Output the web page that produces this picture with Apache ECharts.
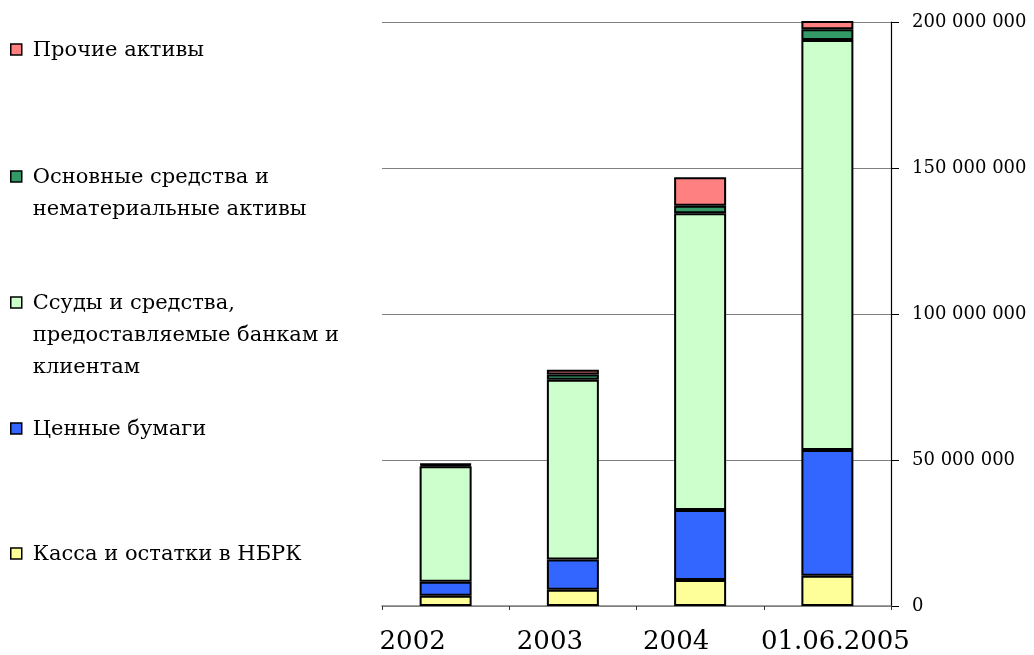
<!DOCTYPE html>
<html>
<head>
<meta charset="utf-8">
<script src="https://cdn.jsdelivr.net/npm/echarts@6/dist/echarts.min.js"></script>
<style>
  html, body { margin: 0; padding: 0; background: #fff; }
  #chart { width: 1034px; height: 655px; }
</style>
</head>
<body>
<div id="chart"></div>
<script>
// Assets structure by period, tenge
const categories = ['2002', '2003', '2004', '01.06.2005'];

const kassa      = [3500000, 5600000, 8900000, 10400000];      // Касса и остатки в НБРК
const securities = [4800000, 10300000, 24000000, 43000000];    // Ценные бумаги
const loans      = [39600000, 61600000, 101600000, 140400000]; // Ссуды и средства
const fixed      = [500000, 1800000, 2600000, 3700000];        // Основные средства
const other      = [300000, 1600000, 9700000, 3400000];        // Прочие активы

const yTicks = [0, 50000000, 100000000, 150000000, 200000000];

const FONT = 'DejaVu Serif';

const seriesDefs = [
  { name: 'Касса и остатки в НБРК', data: kassa, color: '#FFFF99' },
  { name: 'Ценные бумаги', data: securities, color: '#3366FF' },
  { name: 'Ссуды и средства,\nпредоставляемые банкам и\nклиентам', data: loans, color: '#CCFFCC' },
  { name: 'Основные средства и\nнематериальные активы', data: fixed, color: '#339966' },
  { name: 'Прочие активы', data: other, color: '#FF8080' }
];

// legend block positions (top of first text line)
const legendTops = [539, 414, 288, 162, 35];

const legendGraphics = seriesDefs.map((s, i) => ({
  type: 'group',
  left: 10,
  top: legendTops[i],
  children: [
    { type: 'rect', shape: { x: 1, y: 9, width: 11, height: 11 },
      style: { fill: s.color, stroke: '#000', lineWidth: 1.5 } },
    { type: 'text', x: 23, y: 0,
      style: { text: s.name, font: '21px "' + FONT + '"', fill: '#000',
               lineHeight: 32, textVerticalAlign: 'top' } }
  ]
}));

// per-category horizontal shift of the axis labels
const LABEL_SIZE = 26;
const labelRich = {
  c0: { fontSize: LABEL_SIZE, fontFamily: FONT, color: '#000', padding: [0, 66, 0, 0] },
  c1: { fontSize: LABEL_SIZE, fontFamily: FONT, color: '#000', padding: [0, 46, 0, 0] },
  c2: { fontSize: LABEL_SIZE, fontFamily: FONT, color: '#000', padding: [0, 48, 0, 0] },
  c3: { fontSize: LABEL_SIZE, fontFamily: FONT, color: '#000', padding: [0, 0, 0, 16] }
};

const chart = echarts.init(document.getElementById('chart'), null, { renderer: 'canvas' });

chart.setOption({
  backgroundColor: '#fff',
  animation: false,
  grid: { left: 382, right: 143, top: 22, bottom: 49, containLabel: false },
  graphic: legendGraphics,
  xAxis: {
    type: 'category',
    data: categories,
    axisLine: { lineStyle: { color: '#808080', width: 1.5 } },
    axisTick: { show: true, length: 4, lineStyle: { color: '#333' } },
    axisLabel: {
      interval: 0,
      hideOverlap: false,
      margin: 23,
      fontSize: LABEL_SIZE,
      fontFamily: FONT,
      color: '#000',
      formatter: (v, idx) => '{c' + idx + '|' + v + '}',
      rich: labelRich
    }
  },
  yAxis: {
    type: 'value',
    position: 'right',
    min: yTicks[0],
    max: yTicks[yTicks.length - 1],
    interval: 50000000,
    axisLine: { show: true, lineStyle: { color: '#000', width: 1.2 } },
    axisTick: { show: true, length: 8, lineStyle: { color: '#000' } },
    splitLine: { show: true, lineStyle: { color: '#808080', width: 1.2 } },
    axisLabel: {
      margin: 21,
      fontSize: 18,
      fontFamily: FONT,
      color: '#000',
      formatter: v => String(v).replace(/\B(?=(\d{3})+(?!\d))/g, ' ')
    }
  },
  series: seriesDefs.map(s => ({
    name: s.name,
    type: 'bar',
    stack: 'assets',
    barWidth: 52,
    data: s.data,
    itemStyle: { color: s.color, borderColor: '#000', borderWidth: 2 }
  }))
});
</script>
</body>
</html>
